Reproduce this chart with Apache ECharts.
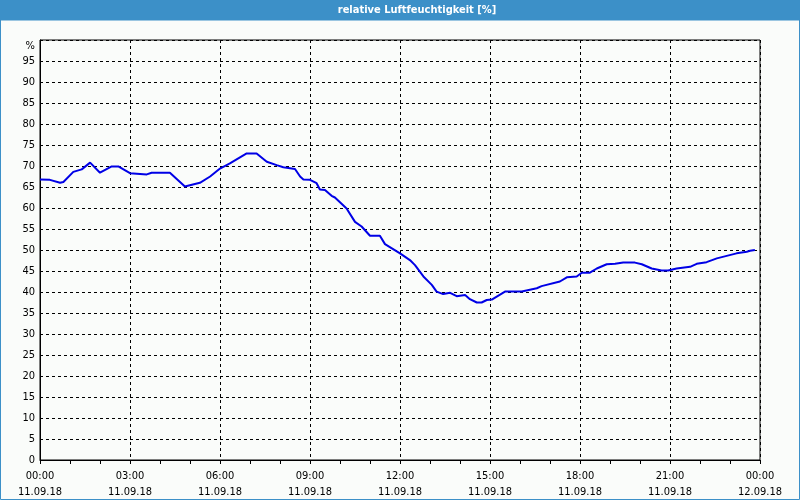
<!DOCTYPE html>
<html><head><meta charset="utf-8">
<script src="https://cdn.jsdelivr.net/npm/echarts@6/dist/echarts.min.js"></script>
<style>html,body{margin:0;padding:0;background:#fafcfa}#c{width:800px;height:500px}</style>
</head><body><div id="c"></div>
<script>
const chartTitle = 'relative Luftfeuchtigkeit [%]';
const hours = [0,0.33,0.67,0.78,1.11,1.39,1.67,2.0,2.39,2.61,3.0,3.56,3.72,4.33,4.83,5.33,5.67,6.0,6.33,6.89,7.22,7.56,7.89,8.11,8.5,8.67,8.78,9.0,9.22,9.33,9.5,9.72,9.83,10.22,10.5,10.72,11.0,11.33,11.5,12.0,12.33,12.5,12.78,13.06,13.22,13.44,13.67,13.89,14.17,14.33,14.56,14.72,14.89,15.06,15.5,16.06,16.56,16.72,17.33,17.56,17.89,18.06,18.33,18.56,18.89,19.17,19.44,19.83,20.06,20.39,20.72,20.94,21.22,21.67,21.89,22.22,22.56,22.89,23.22,23.56,23.67,23.83];
const humidity = [66.8,66.7,66.0,66.2,68.6,69.2,70.8,68.4,69.9,69.9,68.3,68.0,68.4,68.4,65.1,66.0,67.5,69.4,70.6,73.0,73.0,71.0,70.2,69.7,69.3,67.5,66.8,66.7,65.9,64.4,64.3,62.9,62.5,59.9,56.7,55.6,53.4,53.4,51.4,49.2,47.6,46.4,43.7,41.7,40.1,39.5,39.8,39.0,39.3,38.3,37.5,37.5,38.1,38.2,40.1,40.1,40.9,41.4,42.5,43.5,43.7,44.6,44.6,45.6,46.6,46.7,47.0,47.0,46.6,45.6,45.1,45.1,45.6,46.0,46.7,47.1,48.0,48.6,49.2,49.6,49.8,50.0];
const timeLabels = ['00:00','03:00','06:00','09:00','12:00','15:00','18:00','21:00','00:00'];
const dateLabels = ['11.09.18','11.09.18','11.09.18','11.09.18','11.09.18','11.09.18','11.09.18','11.09.18','12.09.18'];

const chart = echarts.init(document.getElementById('c'), null, {renderer:'canvas'});
const font = '"DejaVu Sans Condensed", Tahoma, "DejaVu Sans", sans-serif';
chart.setOption({
  animation:false,
  backgroundColor:'#fafcfa',
  graphic:[
    {type:'rect', shape:{x:0,y:0,width:800,height:20}, style:{fill:'#3c90c8'}, z:-1},
    {type:'rect', shape:{x:0.5,y:20,width:799,height:479.5}, style:{fill:'none',stroke:'#3c90c8',lineWidth:1}, z:-1},
    {type:'text', x:417, y:10, style:{text:chartTitle, fill:'#ffffff', font:'bold 11px '+font, textAlign:'center', textVerticalAlign:'middle'}}
  ],
  grid:{left:40, right:40, top:40, bottom:40, show:true, borderColor:'#000', borderWidth:1, backgroundColor:'transparent'},
  xAxis:{type:'value', min:0, max:24, interval:3,
    axisLine:{show:true, lineStyle:{color:'#000', width:1}},
    axisTick:{show:true, length:4, lineStyle:{color:'#000'}},
    minorTick:{show:true, splitNumber:3, length:4, lineStyle:{color:'#000'}},
    splitLine:{show:true, lineStyle:{color:'#000', type:[3,3], width:1}},
    axisLabel:{color:'#000', fontFamily:font, fontSize:11, lineHeight:16, margin:8,
      formatter:v=>{const i=Math.round(v/3); return timeLabels[i]+'\n'+dateLabels[i];}}
  },
  yAxis:{type:'value', min:0, max:100, interval:5,
    axisLine:{show:true, lineStyle:{color:'#000'}},
    axisTick:{show:false},
    splitLine:{show:true, lineStyle:{color:'#000', type:[3,3], width:1}},
    axisLabel:{color:'#000', fontFamily:font, fontSize:11, margin:5,
      formatter:v=> v===100 ? '{p|%}' : String(v),
      rich:{p:{fontFamily:font, fontSize:11, color:'#000', padding:[12,0,0,0]}}}
  },
  series:[{type:'line', data:hours.map((h,i)=>[h,humidity[i]]), showSymbol:false, smooth:false,
    lineStyle:{color:'#0000e6', width:2}, itemStyle:{color:'#0000e6'}}]
});
</script></body></html>
